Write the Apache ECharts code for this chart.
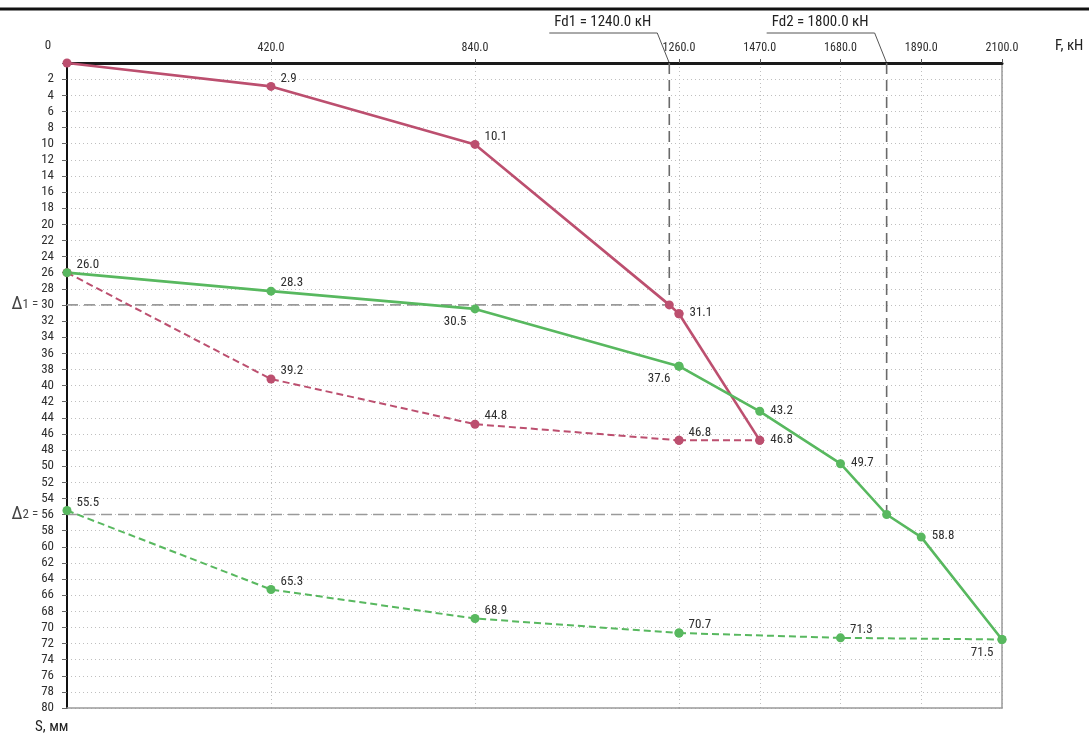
<!DOCTYPE html>
<html>
<head>
<meta charset="utf-8">
<script src="https://cdn.jsdelivr.net/npm/echarts@6/dist/echarts.min.js"></script>
<style>
  html, body { margin: 0; padding: 0; background: #fff; }
  #chart { width: 1089px; height: 736px; }
</style>
</head>
<body>
<div id="chart"></div>
<script>
// ---- data -------------------------------------------------------------
// Load axis F (кН): 420 steps up to 1260, then 210 steps up to 2100
const forceLow = [0, 1260];
const forceLowStep = 420;
const forceHigh = [1260, 2100];
const forceHighStep = 210;
// Settlement axis S (мм)
const settleRange = [0, 80];
const settleStep = 2;

// Test 1 (red): loading and unloading branches
const test1LoadF = [0, 420, 840, 1240, 1260, 1470];
const test1LoadS = [0, 2.9, 10.1, 30, 31.1, 46.8];
const test1UnloadF = [0, 420, 840, 1260, 1470];
const test1UnloadS = [26.0, 39.2, 44.8, 46.8, 46.8];

// Test 2 (green): loading and unloading branches
const test2LoadF = [0, 420, 840, 1260, 1470, 1680, 1800, 1890, 2100];
const test2LoadS = [26.0, 28.3, 30.5, 37.6, 43.2, 49.7, 56, 58.8, 71.5];
const test2UnloadF = [0, 420, 840, 1260, 1680, 2100];
const test2UnloadS = [55.5, 65.3, 68.9, 70.7, 71.3, 71.5];

// Design loads and limiting settlements
const fd1 = 1240, delta1 = 30;
const fd2 = 1800, delta2 = 56;

// ---- styling ----------------------------------------------------------
const FONT = "'Liberation Sans Narrow','Roboto Condensed','DejaVu Sans Condensed','Liberation Sans',Arial,sans-serif";
const RED = '#bc4f6f';
const GREEN = '#58b85f';
const TEXT = '#2e2e2e';
const DOTS = { color: '#bfbfbf', width: 1, type: [1, 3] };

const LABELS = {
  above: { show: true, position: 'right', distance: 5, offset: [0, -8] },
  side:  { show: true, position: 'right', distance: 6, offset: [0, -1] },
  below: { show: true, position: 'left',  distance: 4, offset: [0, 13] },
  none:  { show: false }
};

// label placement per point (load value -> placement)
const place = {
  t1Load:   f => (f === 0 || f === fd1) ? 'none' : (f >= 1260 ? 'side' : 'above'),
  t1Unload: f => (f === 0 || f === 1470) ? 'none' : 'above',
  t2Load:   f => f === fd2 ? 'none' : ([840, 1260, 2100].includes(f) ? 'below' : (f >= 1470 ? 'side' : 'above')),
  t2Unload: f => f === 2100 ? 'none' : 'above'
};

const gridRanges = [forceLow, forceHigh];

function curve(F, S, grid, color, dashed, placer) {
  const [lo, hi] = gridRanges[grid];
  const data = [];
  F.forEach((f, i) => {
    if (f < lo || f > hi) return;
    const kind = (grid === 1 && f === lo) ? 'none' : placer(f);
    data.push({ value: [f, S[i]], label: LABELS[kind] });
  });
  return {
    type: 'line', xAxisIndex: grid, yAxisIndex: grid, data,
    symbol: 'circle', symbolSize: 9, z: 5,
    itemStyle: { color },
    lineStyle: { color, width: dashed ? 2 : 2.6, type: dashed ? [7, 4] : 'solid' },
    label: {
      fontFamily: FONT, fontSize: 13, color: TEXT,
      formatter: p => p.value[1].toFixed(1)
    },
    emphasis: { disabled: true },
    animation: false
  };
}

function guide(points, grid, color) {
  return {
    type: 'line', xAxisIndex: grid, yAxisIndex: grid, data: points,
    symbol: 'none', silent: true, z: 3,
    lineStyle: { color, width: 1.6, type: [11, 6] },
    animation: false
  };
}

const series = [];
[0, 1].forEach(g => {
  series.push(curve(test1LoadF, test1LoadS, g, RED, false, place.t1Load));
  series.push(curve(test1UnloadF, test1UnloadS, g, RED, true, place.t1Unload));
  series.push(curve(test2LoadF, test2LoadS, g, GREEN, false, place.t2Load));
  series.push(curve(test2UnloadF, test2UnloadS, g, GREEN, true, place.t2Unload));
});
// limiting settlement / design load guides
series.push(guide([[0, delta1], [fd1, delta1]], 0, '#9a9a9a'));
series.push(guide([[fd1, 0], [fd1, delta1]], 0, '#6a6a6a'));
series.push(guide([[0, delta2], [forceLow[1], delta2]], 0, '#9a9a9a'));
series.push(guide([[forceHigh[0], delta2], [fd2, delta2]], 1, '#9a9a9a'));
series.push(guide([[fd2, 0], [fd2, delta2]], 1, '#6a6a6a'));

function topAxis(grid, range, step) {
  return {
    gridIndex: grid, type: 'value', position: 'top',
    min: range[0], max: range[1], interval: step,
    axisLine: { show: true, onZero: false, lineStyle: { color: '#1a1a1a', width: 3 } },
    axisTick: { show: true, length: 4, lineStyle: { color: '#555' } },
    axisLabel: {
      fontFamily: FONT, fontSize: 12, color: TEXT, margin: 9,
      formatter: v => (v === 0 || (grid === 1 && v === range[0])) ? '' : v.toFixed(1)
    },
    splitLine: { show: true, lineStyle: DOTS }
  };
}
function frameAxis(grid, range) {
  return {
    gridIndex: grid, type: 'value', position: 'bottom',
    min: range[0], max: range[1],
    axisLine: { show: true, onZero: false, lineStyle: { color: '#9a9a9a', width: 1.5 } },
    axisTick: { show: false }, axisLabel: { show: false }, splitLine: { show: false }
  };
}

const option = {
  backgroundColor: '#fff',
  grid: [
    { left: 67, top: 63, width: 612, height: 645 },
    { left: 679, top: 63, width: 323, height: 645 }
  ],
  xAxis: [
    topAxis(0, forceLow, forceLowStep),
    topAxis(1, forceHigh, forceHighStep),
    frameAxis(0, forceLow),
    frameAxis(1, forceHigh)
  ],
  yAxis: [
    {
      gridIndex: 0, type: 'value', inverse: true,
      min: settleRange[0], max: settleRange[1], interval: settleStep,
      axisLine: { show: true, onZero: false, lineStyle: { color: '#111', width: 2 } },
      axisTick: { show: true, length: 5, lineStyle: { color: '#666' } },
      axisLabel: {
        fontFamily: FONT, fontSize: 13, color: TEXT, margin: 13,
        formatter: v => {
          if (v === 0) return '';
          if (v === delta1) return '{d|Δ}{s|1 = }' + v;
          if (v === delta2) return '{d|Δ}{s|2 = }' + v;
          return String(v);
        },
        rich: {
          d: { fontFamily: FONT, fontSize: 18, color: '#444' },
          s: { fontFamily: FONT, fontSize: 13, color: '#444' }
        }
      },
      splitLine: { show: true, lineStyle: DOTS }
    },
    {
      gridIndex: 1, type: 'value', inverse: true, position: 'right',
      min: settleRange[0], max: settleRange[1], interval: settleStep,
      axisLine: { show: true, onZero: false, lineStyle: { color: '#9a9a9a', width: 1.5 } },
      axisTick: { show: false }, axisLabel: { show: false },
      splitLine: { show: true, lineStyle: DOTS }
    }
  ],
  series
};

const chart = echarts.init(document.getElementById('chart'), null, { renderer: 'canvas' });
chart.setOption(option);

// annotations placed through the axes' own scales
const p1 = chart.convertToPixel({ gridIndex: 0 }, [fd1, 0]);
const p2 = chart.convertToPixel({ gridIndex: 1 }, [fd2, 0]);
const rise = 30;

function leader(p, label) {
  const knee = [p[0] - 12, p[1] - rise];
  return [
    {
      type: 'polyline', silent: true,
      shape: { points: [[p[0], p[1]], knee, [knee[0] - 108, knee[1]]] },
      style: { stroke: '#555', lineWidth: 1, fill: null }
    },
    {
      type: 'text', silent: true, x: knee[0] - 103, y: knee[1] - 3,
      style: { text: label, fontFamily: FONT, fontSize: 15, fill: '#222', textVerticalAlign: 'bottom', textAlign: 'left' }
    }
  ];
}

chart.setOption({
  graphic: [
    { type: 'line', silent: true, shape: { x1: 0, y1: 9, x2: 1089, y2: 9 }, style: { stroke: '#111', lineWidth: 3 } },
    ...leader(p1, 'Fd1 = ' + fd1.toFixed(1) + ' кН'),
    ...leader(p2, 'Fd2 = ' + fd2.toFixed(1) + ' кН'),
    { type: 'text', silent: true, x: 48, y: 46, style: { text: '0', fontFamily: FONT, fontSize: 13, fill: TEXT, textAlign: 'center', textVerticalAlign: 'middle' } },
    { type: 'text', silent: true, x: 1055, y: 46, style: { text: 'F, кН', fontFamily: FONT, fontSize: 15, fill: '#222', textAlign: 'left', textVerticalAlign: 'middle' } },
    { type: 'text', silent: true, x: 35, y: 727, style: { text: 'S, мм', fontFamily: FONT, fontSize: 15, fill: '#222', textAlign: 'left', textVerticalAlign: 'middle' } }
  ]
});
</script>
</body>
</html>
